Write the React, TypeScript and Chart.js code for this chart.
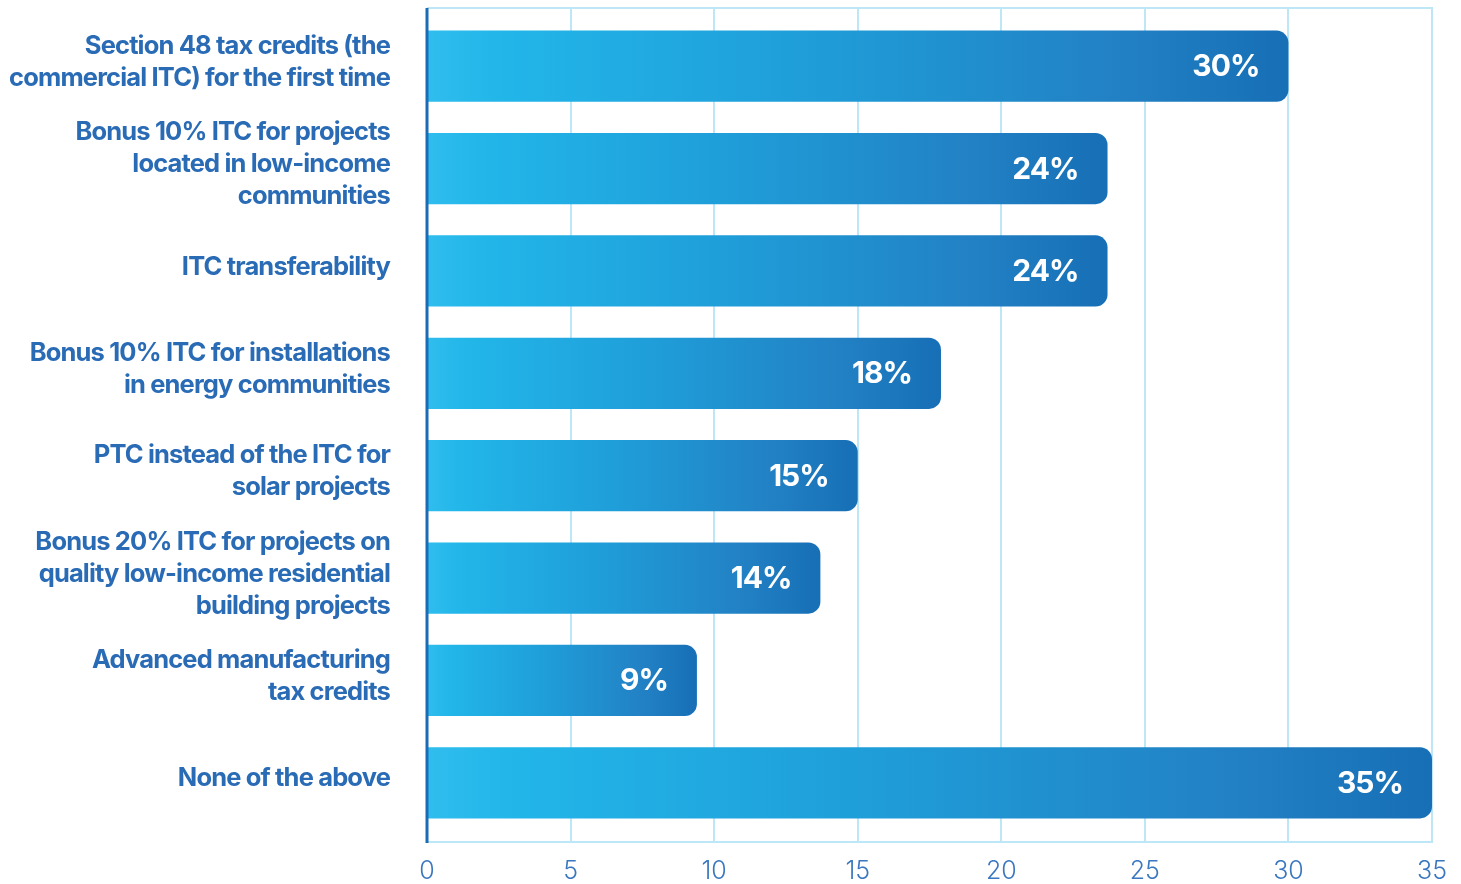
import React, { useEffect, useRef } from "react";
import { Chart, registerables } from "chart.js";

Chart.register(...registerables);

const categories: string[][] = [
  ["Section 48 tax credits (the", "commercial ITC) for the first time"],
  ["Bonus 10% ITC for projects", "located in low-income", "communities"],
  ["ITC transferability"],
  ["Bonus 10% ITC for installations", "in energy communities"],
  ["PTC instead of the ITC for", "solar projects"],
  ["Bonus 20% ITC for projects on", "quality low-income residential", "building projects"],
  ["Advanced manufacturing", "tax credits"],
  ["None of the above"],
];

const values: number[] = [30, 23.7, 23.7, 17.9, 15, 13.7, 9.4, 35];
const valueLabels: string[] = ["30%", "24%", "24%", "18%", "15%", "14%", "9%", "35%"];
const xTicks: number[] = [0, 5, 10, 15, 20, 25, 30, 35];

const FONT = "Inter, 'Noto Sans', sans-serif";

const framePlugin = {
  id: "frame",
  beforeDatasetsDraw(chart: any) {
    const { ctx, chartArea } = chart;
    const xs = chart.scales.x;
    const top = chartArea.top - 7;
    const bottom = chartArea.bottom + 8;
    ctx.save();
    ctx.strokeStyle = "#bde6f6";
    ctx.lineWidth = 2;
    for (const v of xTicks) {
      const x = Math.round(xs.getPixelForValue(v));
      ctx.beginPath();
      ctx.moveTo(x, top);
      ctx.lineTo(x, bottom);
      ctx.stroke();
    }
    ctx.beginPath();
    ctx.moveTo(chartArea.left, top);
    ctx.lineTo(xs.getPixelForValue(35) + 1, top);
    ctx.moveTo(chartArea.left, bottom);
    ctx.lineTo(xs.getPixelForValue(35) + 1, bottom);
    ctx.stroke();
    ctx.restore();
  },
  afterDatasetsDraw(chart: any) {
    const { ctx, chartArea } = chart;
    const xs = chart.scales.x;
    const ys = chart.scales.y;
    const top = chartArea.top - 7;
    const bottom = chartArea.bottom + 9;
    ctx.save();
    ctx.strokeStyle = "#1a6cb4";
    ctx.lineWidth = 3;
    const x0 = xs.getPixelForValue(0);
    ctx.beginPath();
    ctx.moveTo(x0, top);
    ctx.lineTo(x0, bottom);
    ctx.stroke();

    // value labels inside bars
    const meta = chart.getDatasetMeta(0);
    ctx.fillStyle = "#ffffff";
    ctx.font = `700 30px ${FONT}`;
    (ctx as any).letterSpacing = "-1px";
    ctx.textAlign = "right";
    ctx.textBaseline = "middle";
    meta.data.forEach((bar: any, i: number) => {
      ctx.fillText(valueLabels[i], bar.x - 29, bar.y + 1);
    });

    // category labels
    ctx.fillStyle = "#2a6bb6";
    ctx.font = `700 25.5px ${FONT}`;
    (ctx as any).letterSpacing = "-0.85px";
    ctx.textAlign = "right";
    ctx.textBaseline = "middle";
    const lh = 32;
    categories.forEach((lines, i) => {
      const cy = ys.getPixelForValue(i) - 4;
      const y0 = cy - ((lines.length - 1) * lh) / 2;
      lines.forEach((line, j) => {
        ctx.fillText(line, x0 - 37, y0 + j * lh);
      });
    });
    ctx.restore();
  },
};

export default function App() {
  const ref = useRef<HTMLCanvasElement>(null);

  useEffect(() => {
    document.body.style.margin = "0";
    const canvas = ref.current!;
    const chart = new Chart(canvas, {
      type: "bar",
      data: {
        labels: categories.map((c) => c.join(" ")),
        datasets: [
          {
            data: values,
            backgroundColor: (context: any) => {
              const c = context.chart;
              const xs = c.scales?.x;
              if (!xs || context.type !== "data") return "#1f9ad6";
              const x0 = xs.getPixelForValue(0);
              const x1 = xs.getPixelForValue(context.raw);
              if (!isFinite(x0) || !isFinite(x1) || x1 <= x0) return "#1f9ad6";
              const g = c.ctx.createLinearGradient(x0, 0, x1, 0);
              g.addColorStop(0, "#30bdee");
              g.addColorStop(0.08, "#22b6e9");
              g.addColorStop(0.45, "#1f9dd8");
              g.addColorStop(0.8, "#2281c4");
              g.addColorStop(1, "#176fb6");
              return g;
            },
            borderRadius: 12,
            borderSkipped: "start",
            barPercentage: 0.695,
            categoryPercentage: 1,
          },
        ],
      },
      options: {
        indexAxis: "y",
        animation: false,
        responsive: true,
        maintainAspectRatio: false,
        layout: { padding: { top: 15, right: 29, left: 0, bottom: 0 } },
        plugins: {
          legend: { display: false },
          tooltip: { enabled: false },
        },
        scales: {
          x: {
            min: 0,
            max: 35,
            afterBuildTicks: (scale: any) => {
              scale.ticks = xTicks.map((v) => ({ value: v }));
            },
            afterFit: (scale: any) => {
              scale.height = 50;
              scale.paddingLeft = 0;
              scale.paddingRight = 0;
            },
            grid: { display: false, drawTicks: false },
            border: { display: false },
            ticks: {
              padding: 22,
              color: "#3a77bf",
              font: { family: FONT, size: 25, weight: "300" as any },
              maxRotation: 0,
            },
          },
          y: {
            afterFit: (scale: any) => {
              scale.width = 427;
            },
            grid: { display: false, drawTicks: false },
            border: { display: false },
            ticks: { display: false },
          },
        },
      },
      plugins: [framePlugin],
    });
    return () => chart.destroy();
  }, []);

  return (
    <div style={{ position: "fixed", left: 0, top: 0, width: 1461, height: 884, background: "#ffffff" }}>
      <canvas ref={ref} />
    </div>
  );
}
